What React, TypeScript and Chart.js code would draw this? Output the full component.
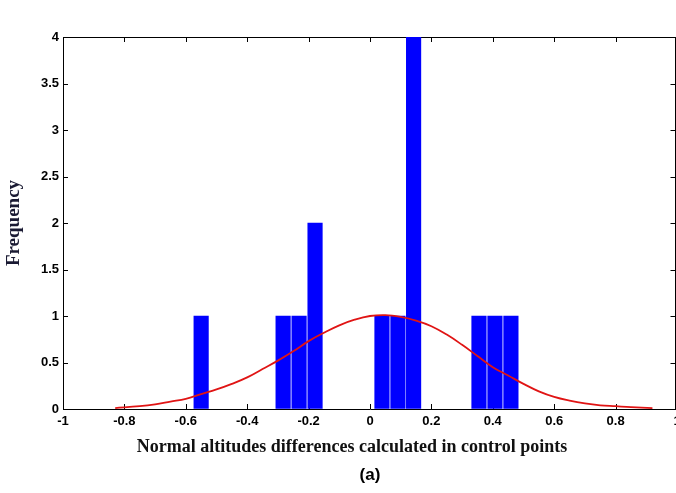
import React, { useEffect, useRef } from 'react';
import { Chart, registerables } from 'chart.js';

Chart.register(...registerables);

// Histogram bins (centres) and their frequencies
const binCenters = [-0.55, -0.283, -0.231, -0.179, 0.039, 0.091, 0.142, 0.355, 0.407, 0.459];
const binCounts = [1, 1, 1, 2, 1, 1, 4, 1, 1, 1];

// Fitted normal curve
const curveX = [-0.83, -0.75, -0.7, -0.65, -0.6, -0.55, -0.5, -0.45, -0.4, -0.35, -0.3, -0.25, -0.2, -0.15, -0.1, -0.05, 0, 0.05, 0.1, 0.15, 0.2, 0.25, 0.3, 0.35, 0.4, 0.45, 0.5, 0.55, 0.6, 0.65, 0.7, 0.75, 0.8, 0.85, 0.92];
const curveY = [0.01, 0.03, 0.05, 0.08, 0.11, 0.16, 0.21, 0.27, 0.34, 0.43, 0.52, 0.62, 0.73, 0.82, 0.9, 0.96, 1.0, 1.01, 0.99, 0.95, 0.89, 0.8, 0.69, 0.57, 0.45, 0.36, 0.27, 0.19, 0.13, 0.09, 0.06, 0.04, 0.03, 0.02, 0.01];

// Axis ranges / tick steps
const xRange = [-1, 1];
const xStep = 0.2;
const yRange = [0, 4];
const yStep = 0.5;

const xTitle = 'Normal altitudes differences calculated in control points';
const yTitle = 'Frequency';
const caption = '(a)';

const fmt = (v: number) => String(Number(Number(v).toFixed(2)));

const framePlugin = {
  id: 'frameTicks',
  beforeDatasetsDraw(chart: any) {
    const { ctx, chartArea, scales } = chart;
    const { left, right, top, bottom } = chartArea;
    const x = scales.x;
    const y = scales.y;
    ctx.save();
    ctx.strokeStyle = '#000';
    ctx.lineWidth = 1;
    ctx.beginPath();
    ctx.moveTo(left, top + 0.5);
    ctx.lineTo(right, top + 0.5);
    ctx.moveTo(right - 1.5, top);
    ctx.lineTo(right - 1.5, bottom);
    const tl = 5;
    x.ticks.forEach((t: any) => {
      const px = Math.round(x.getPixelForValue(t.value)) + 0.5;
      ctx.moveTo(px, bottom);
      ctx.lineTo(px, bottom - tl);
      ctx.moveTo(px, top);
      ctx.lineTo(px, top + tl);
    });
    y.ticks.forEach((t: any) => {
      const py = Math.round(y.getPixelForValue(t.value)) + 0.5;
      ctx.moveTo(left, py);
      ctx.lineTo(left + tl, py);
      ctx.moveTo(right - 1.5, py);
      ctx.lineTo(right - 1.5 - tl, py);
    });
    ctx.stroke();
    ctx.restore();
  },
};

export default function App() {
  const ref = useRef<HTMLCanvasElement | null>(null);

  useEffect(() => {
    if (!ref.current) return;
    const tickFont = { family: '"Liberation Sans", Arial, sans-serif', size: 13, weight: 'bold' as const };
    const chart = new Chart(ref.current, {
      type: 'bar',
      data: {
        datasets: [
          {
            type: 'line' as const,
            data: curveX.map((v, i) => ({ x: v, y: curveY[i] })),
            borderColor: '#e01414',
            borderWidth: 1.8,
            pointRadius: 0,
            tension: 0.4,
            fill: false,
            order: 0,
          },
          {
            type: 'bar' as const,
            data: binCenters.map((v, i) => ({ x: v, y: binCounts[i] })),
            backgroundColor: '#0000ff',
            borderWidth: 0,
            barThickness: 14.5,
            order: 1,
          },
        ] as any,
      },
      options: {
        animation: false,
        responsive: false,
        layout: { padding: { top: 37, right: 5, bottom: 0, left: 0 } },
        plugins: {
          legend: { display: false },
          tooltip: { enabled: false },
          title: {
            display: true,
            text: caption,
            position: 'bottom',
            fullSize: false,
            color: '#000',
            font: { family: '"Liberation Sans", Arial, sans-serif', size: 17, weight: 'bold', lineHeight: 1 },
            padding: { top: 0, bottom: 9 },
          },
        },
        scales: {
          x: {
            type: 'linear',
            min: xRange[0],
            max: xRange[1],
            offset: false,
            afterFit: (s: any) => { s.height = 58; s.paddingRight = 0; },
            grid: { display: true, drawOnChartArea: false, drawTicks: false },
            border: { display: true, color: '#000', width: 1 },
            ticks: { stepSize: xStep, color: '#000', font: tickFont, padding: 5, maxRotation: 0, autoSkip: false, callback: (v: any) => fmt(v) },
            title: {
              display: true,
              text: xTitle + '\u00a0'.repeat(8),
              color: '#111',
              font: { family: '"Liberation Serif", "Times New Roman", serif', size: 18, weight: 'bold', lineHeight: 1.2 },
              padding: { top: 0, bottom: 9 },
            },
          },
          y: {
            type: 'linear',
            min: yRange[0],
            max: yRange[1],
            afterFit: (s: any) => { s.width = 63; },
            grid: { display: true, drawOnChartArea: false, drawTicks: false },
            border: { display: true, color: '#000', width: 1 },
            ticks: { stepSize: yStep, color: '#000', font: tickFont, padding: 4, callback: (v: any) => fmt(v) },
            title: {
              display: true,
              text: yTitle,
              color: '#1a1a33',
              font: { family: '"Liberation Serif", "Times New Roman", serif', size: 19, weight: 'bold', lineHeight: 1.2 },
              padding: { top: 3, bottom: 0 },
            },
          },
        },
      } as any,
      plugins: [framePlugin],
    });
    return () => chart.destroy();
  }, []);

  return (
    <div style={{ position: 'absolute', left: 0, top: 0, width: 676, height: 493, overflow: 'hidden', background: '#fff' }}>
      <canvas ref={ref} width={682} height={493} style={{ display: 'block' }} />
    </div>
  );
}
